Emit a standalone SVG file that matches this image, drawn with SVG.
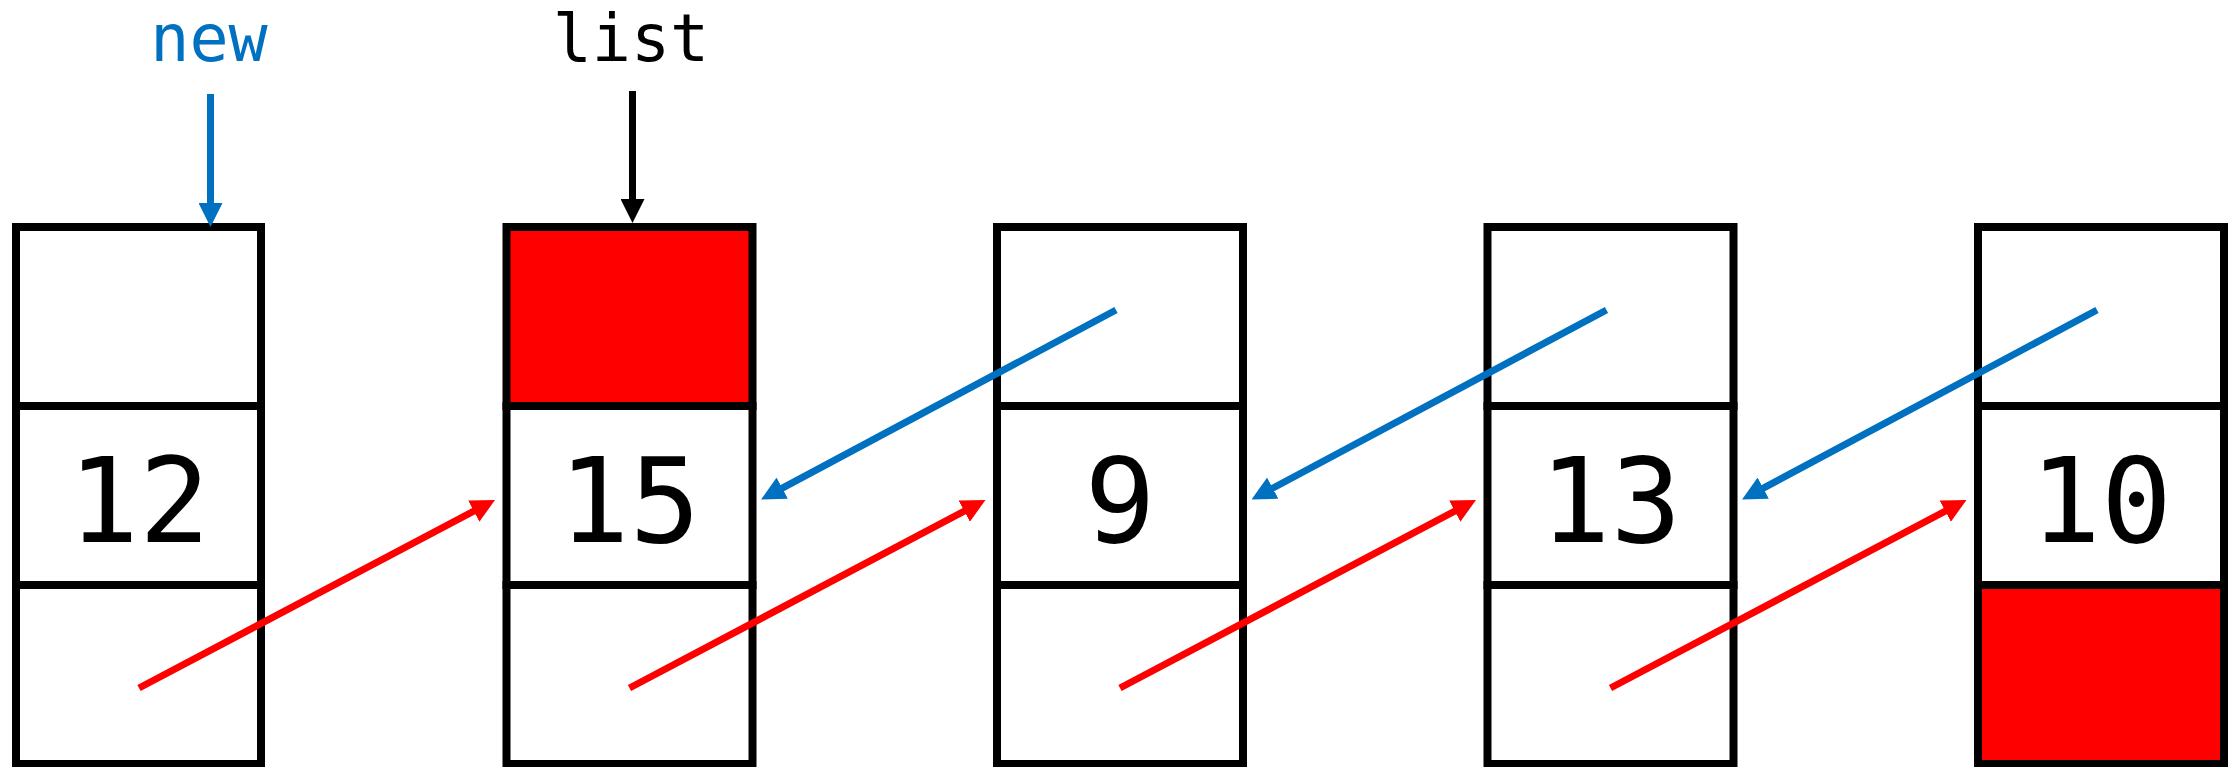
<svg xmlns="http://www.w3.org/2000/svg" width="2239" height="767" viewBox="0 0 2239 767">
<style>
.cell{fill:#FFFFFF;stroke:#000000;stroke-width:8}
.red{fill:#FF0000}
.num{font-family:"DejaVu Sans Mono","Liberation Mono",monospace;font-size:118px;text-anchor:middle;fill:#000000;font-feature-settings:"zero" 1}
.lbl{font-family:"DejaVu Sans Mono","Liberation Mono",monospace;font-size:65px;text-anchor:middle}
.next{stroke:#FF0000;stroke-width:7;fill:none;marker-end:url(#ahRed)}
.prev{stroke:#0070C0;stroke-width:7;fill:none;marker-end:url(#ahBlue)}
</style>
<defs>
<marker id="ahRed" markerUnits="userSpaceOnUse" markerWidth="24" markerHeight="24" viewBox="0 0 24 24" refX="10" refY="12" orient="auto"><path d="M0,0 L24,12 L0,24 z" fill="#FF0000"/></marker>
<marker id="ahBlue" markerUnits="userSpaceOnUse" markerWidth="24" markerHeight="24" viewBox="0 0 24 24" refX="10" refY="12" orient="auto"><path d="M0,0 L24,12 L0,24 z" fill="#0070C0"/></marker>
<marker id="ahBlack" markerUnits="userSpaceOnUse" markerWidth="24" markerHeight="24" viewBox="0 0 24 24" refX="10" refY="12" orient="auto"><path d="M0,0 L24,12 L0,24 z" fill="#000000"/></marker>
</defs>
<rect x="0" y="0" width="2239" height="767" fill="#FFFFFF"/>
<g id="label-new"><text class="lbl" x="209" y="61" fill="#0070C0">new</text></g>
<g id="label-list"><text class="lbl" x="631" y="61" fill="#000000">list</text></g>
<g id="node-12">
<rect class="cell" x="16" y="227" width="245" height="179"/>
<rect class="cell" x="16" y="406" width="245" height="179"/>
<rect class="cell" x="16" y="585" width="245" height="179"/>
<text class="num" x="139" y="542">12</text>
</g>
<g id="node-15">
<rect class="cell red" x="506.5" y="227" width="246" height="179"/>
<rect class="cell" x="506.5" y="406" width="246" height="179"/>
<rect class="cell" x="506.5" y="585" width="246" height="179"/>
<text class="num" x="629.5" y="542">15</text>
</g>
<g id="node-9">
<rect class="cell" x="997" y="227" width="246" height="179"/>
<rect class="cell" x="997" y="406" width="246" height="179"/>
<rect class="cell" x="997" y="585" width="246" height="179"/>
<text class="num" x="1120" y="542">9</text>
</g>
<g id="node-13">
<rect class="cell" x="1487.5" y="227" width="246" height="179"/>
<rect class="cell" x="1487.5" y="406" width="246" height="179"/>
<rect class="cell" x="1487.5" y="585" width="246" height="179"/>
<text class="num" x="1610.5" y="542">13</text>
</g>
<g id="node-10">
<rect class="cell" x="1978" y="227" width="246" height="179"/>
<rect class="cell" x="1978" y="406" width="246" height="179"/>
<rect class="cell red" x="1978" y="585" width="246" height="179"/>
<text class="num" x="2101" y="542">10</text>
</g>
<g id="connectors">
<line x1="210.5" y1="94" x2="210.5" y2="213" stroke="#0070C0" stroke-width="7" marker-end="url(#ahBlue)"/>
<line x1="632.5" y1="91" x2="632.5" y2="209" stroke="#000000" stroke-width="7" marker-end="url(#ahBlack)"/>
<line class="next" x1="139" y1="688" x2="482.6" y2="506.5"/>
<line class="next" x1="629.5" y1="688" x2="973.1" y2="506.5"/>
<line class="next" x1="1120" y1="688" x2="1463.6" y2="506.5"/>
<line class="next" x1="1610.5" y1="688" x2="1954.1" y2="506.5"/>
<line class="prev" x1="1116" y1="310" x2="773.4" y2="492.9"/>
<line class="prev" x1="1606.5" y1="310" x2="1263.9" y2="492.9"/>
<line class="prev" x1="2097" y1="310" x2="1754.4" y2="492.9"/>
</g>
</svg>
